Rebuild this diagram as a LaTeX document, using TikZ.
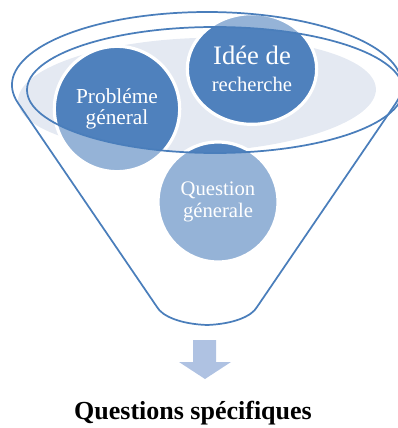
\documentclass[tikz,border=0pt]{standalone}
\usepackage{fontspec}
\setmainfont{Liberation Serif}
\usetikzlibrary{shapes.geometric}
\definecolor{funnelblue}{RGB}{74,126,187}
\definecolor{darkdisc}{RGB}{79,129,189}
\definecolor{lightdisc}{RGB}{149,179,215}
\definecolor{mouthfill}{RGB}{228,233,242}
\definecolor{arrowblue}{RGB}{175,194,226}
\tikzset{
  rim/.style={draw=funnelblue, line width=1.3pt},
  disc/.style={fill=lightdisc, draw=white, line width=2.4pt, text=white,
    inner sep=0pt, align=center,
    path picture={\fill[darkdisc] (mouth) ellipse [x radius=188, y radius=63];}},
}

\begin{document}
\begin{tikzpicture}[x=0.75pt,y=-0.75pt]
\useasboundingbox (0,0) rectangle (398,428);
\coordinate (mouth) at (215,90);
\coordinate (fl) at (18.2,103.3);
\coordinate (br) at (257,307);
\coordinate (bl) at (157,307);
\coordinate (bot) at (207,325);

\fill[mouthfill, rotate around={2:(197,95)}] (197,95) ellipse [x radius=179, y radius=57];

\node[disc, circle, minimum size=94pt, font=\fontsize{16}{16}\selectfont] (prob) at (117,109) {Probléme\\géneral};
\node[disc, ellipse, minimum width=97pt, minimum height=83pt, font=\fontsize{15.5}{20}\selectfont] (idee) at (252,69) {{\fontsize{20}{20}\selectfont Idée de}\\recherche};
\node[disc, circle, minimum size=90pt, font=\fontsize{15.5}{16}\selectfont] (quest) at (218,202) {Question\\génerale};

\draw[rim] (mouth) ellipse [x radius=188, y radius=63];
\draw[rim] (fl) arc[start angle=165.5, end angle=374.5, x radius=195, y radius=73] -- (br)
  .. controls (252,316) and (234,324) .. (bot) .. controls (180,324) and (162,316) .. (bl) -- cycle;

\fill[arrowblue] (193,340) -- (216,340) -- (216,362) -- (231,362) -- (205,379) -- (179,362) -- (193,362) -- cycle;
\node[anchor=base, font=\fontsize{19.5}{20}\selectfont\bfseries] (spec) at (193,419) {Questions spécifiques};
\end{tikzpicture}
\end{document}
